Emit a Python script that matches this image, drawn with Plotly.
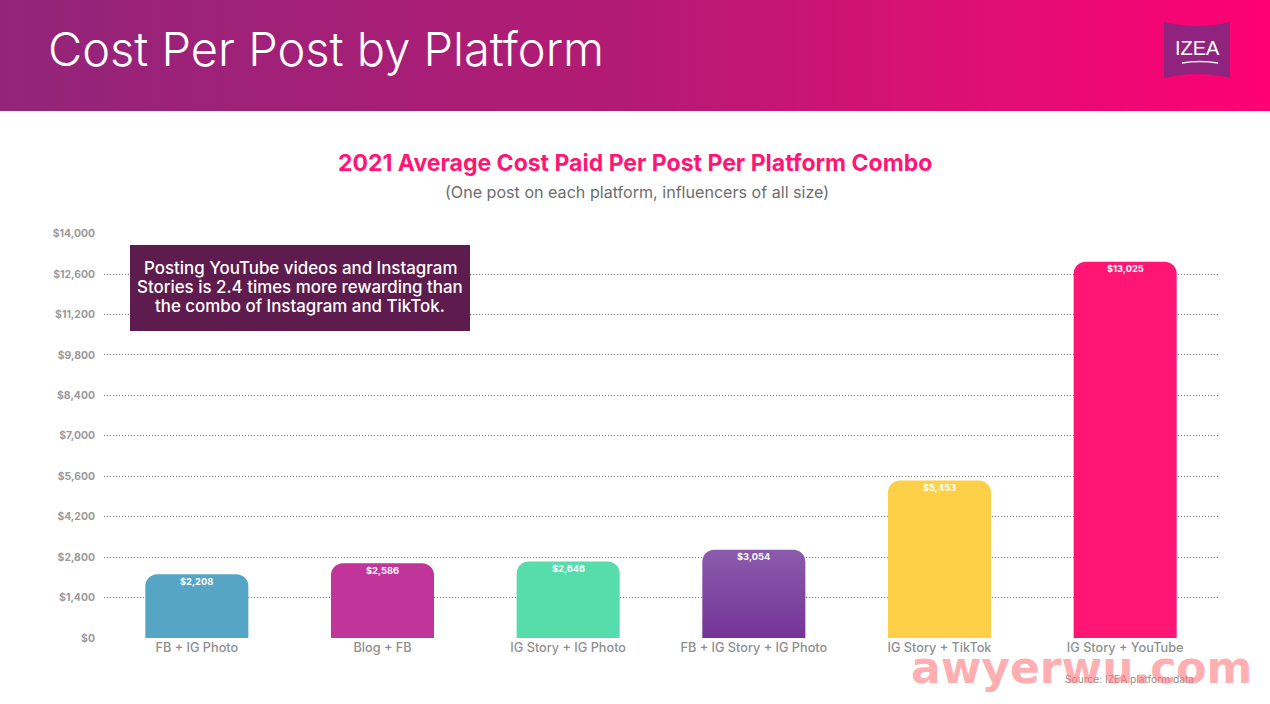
import plotly.graph_objects as go

# 2021 cost per post
combos = ['FB + IG Photo', 'Blog + FB', 'IG Story + IG Photo', 'FB + IG Story + IG Photo', 'IG Story + TikTok', 'IG Story + YouTube']
cost = [2208, 2586, 2646, 3054, 5453, 13025]
labels = ['$2,208', '$2,586', '$2,646', '$3,054', '$5,453', '$13,025']
bar_colors = ['#56a5c5', '#c1359b', '#57dcab', '#8150a8', '#fdd048', '#ff1675']
y_ticks = [0, 1400, 2800, 4200, 5600, 7000, 8400, 9800, 11200, 12600, 14000]
y_tick_labels = ['$0', '$1,400', '$2,800', '$4,200', '$5,600', '$7,000', '$8,400', '$9,800', '$11,200', '$12,600', '$14,000']
callout_lines = ['Posting YouTube videos and Instagram', 'Stories is 2.4 times more rewarding than', 'the combo of Instagram and TikTok.']

W, H = 1270, 704
FONT = 'Inter'

# header band gradient as an svg, plotly has no gradient fill for shapes
header_svg = ("data:image/svg+xml;utf8,<svg xmlns='http://www.w3.org/2000/svg' width='1270' height='111'>"
              "<defs><linearGradient id='g'><stop offset='0' stop-color='%2392257a'/>"
              "<stop offset='0.5' stop-color='%23b41a74'/><stop offset='0.8' stop-color='%23e30d75'/>"
              "<stop offset='1' stop-color='%23ff0073'/></linearGradient></defs>"
              "<rect width='1270' height='111' fill='url(%23g)'/></svg>")

# drop the body margin and give the purple bar its gradient
post_js = """
document.body.style.margin = '0';
document.documentElement.style.overflow = 'hidden';
var svg = document.querySelector('.main-svg');
var ns = 'http://www.w3.org/2000/svg';
var grad = document.createElementNS(ns, 'linearGradient');
grad.setAttribute('id', 'purplebar');
grad.setAttribute('x1', '0'); grad.setAttribute('y1', '0');
grad.setAttribute('x2', '0'); grad.setAttribute('y2', '1');
[['0', '#8b5bad'], ['1', '#743497']].forEach(function (s) {
    var stop = document.createElementNS(ns, 'stop');
    stop.setAttribute('offset', s[0]);
    stop.setAttribute('stop-color', s[1]);
    grad.appendChild(stop);
});
svg.querySelector('defs').appendChild(grad);
svg.querySelectorAll('.bars .point path')[3].style.fill = 'url(#purplebar)';
"""


def px(x):
    return x / W


def py(y):
    return 1 - y / H


def note(text, x, y, size, color, weight=400, family=FONT):
    return dict(text=text, x=px(x), y=py(y), xref='paper', yref='paper', showarrow=False,
                xanchor='center', yanchor='middle', align='center',
                font=dict(family=family, size=size, color=color, weight=weight))


trace = go.Bar(
    x=combos,
    y=cost,
    width=0.555,
    marker=dict(color=bar_colors, line=dict(width=0)),
    hoverinfo='x+y',
)

# value labels just under the top of each bar
bar_notes = [dict(text=t, x=c, y=v, xref='x', yref='y', yshift=-7, showarrow=False,
                  xanchor='center', yanchor='middle',
                  font=dict(family=FONT, size=9.3, color='white', weight=700))
             for c, v, t in zip(combos, cost, labels)]

callout_notes = [note(t, 300, 268 + 19 * i, 16.9, 'white', 500) for i, t in enumerate(callout_lines)]

layout = go.Layout(
    width=W,
    height=H,
    autosize=False,
    showlegend=False,
    paper_bgcolor='white',
    plot_bgcolor='white',
    barcornerradius=12,
    margin=dict(l=0, r=0, t=0, b=0, autoexpand=False),
    xaxis=dict(
        domain=[px(104), px(1218)],
        automargin=False,
        showgrid=False,
        showline=False,
        zeroline=False,
        ticks='',
        tickfont=dict(family=FONT, size=12.7, color='#8f8f8f', weight=500),
        anchor='y',
    ),
    yaxis=dict(
        domain=[py(638), py(233.6)],
        automargin=False,
        range=[0, 14001],
        tickvals=y_ticks,
        ticktext=y_tick_labels,
        showline=False,
        zeroline=False,
        gridcolor='#808080',
        griddash='1px,2px',
        gridwidth=1,
        ticks='outside',
        ticklen=6,
        tickcolor='rgba(0,0,0,0)',
        tickfont=dict(family=FONT, size=10.4, color='#9a9a9a', weight=700),
    ),
    images=[dict(source=header_svg, xref='paper', yref='paper', x=0, y=1, sizex=1, sizey=111 / H,
                 sizing='stretch', xanchor='left', yanchor='top', layer='below')],
    shapes=[
        # callout box
        dict(type='rect', xref='paper', yref='paper', x0=px(130), x1=px(470), y0=py(331), y1=py(245),
             fillcolor='#5e1c4e', line=dict(width=0), layer='above'),
        # logo flag
        dict(type='path', xref='paper', yref='paper',
             path='M %f %f Q %f %f %f %f L %f %f Q %f %f %f %f Z' % (
                 px(1164), py(22), px(1197), py(30), px(1230), py(22),
                 px(1230), py(78), px(1197), py(70), px(1164), py(78)),
             fillcolor='#90237d', line=dict(width=0), layer='above'),
        # logo underline
        dict(type='path', xref='paper', yref='paper',
             path='M %f %f Q %f %f %f %f' % (px(1182), py(63), px(1199), py(60), px(1218), py(63)),
             line=dict(color='white', width=1.5), layer='above'),
    ],
    annotations=bar_notes + callout_notes + [
        note('Cost Per Post by Platform', 326, 48.5, 47, 'white', 300),
        note('IZEA', 1197, 48, 20, 'white', 400, 'Liberation Sans'),
        note('2021 Average Cost Paid Per Post Per Platform Combo', 635.5, 163, 23, '#ff1675', 700),
        note('(One post on each platform, influencers of all size)', 637, 192, 16.1, '#6d6d6d'),
        note('Source: IZEA platform data', 1129, 679, 10.2, '#8f8f8f'),
        # watermark that sits over the reference
        note('awyerwu.com', 1081, 667, 44, 'rgba(255,120,125,0.6)', 700, 'DejaVu Sans'),
    ],
)

fig = go.Figure(data=[trace], layout=layout)
fig.write_html('out.html', post_script=post_js, config=dict(displayModeBar=False))
